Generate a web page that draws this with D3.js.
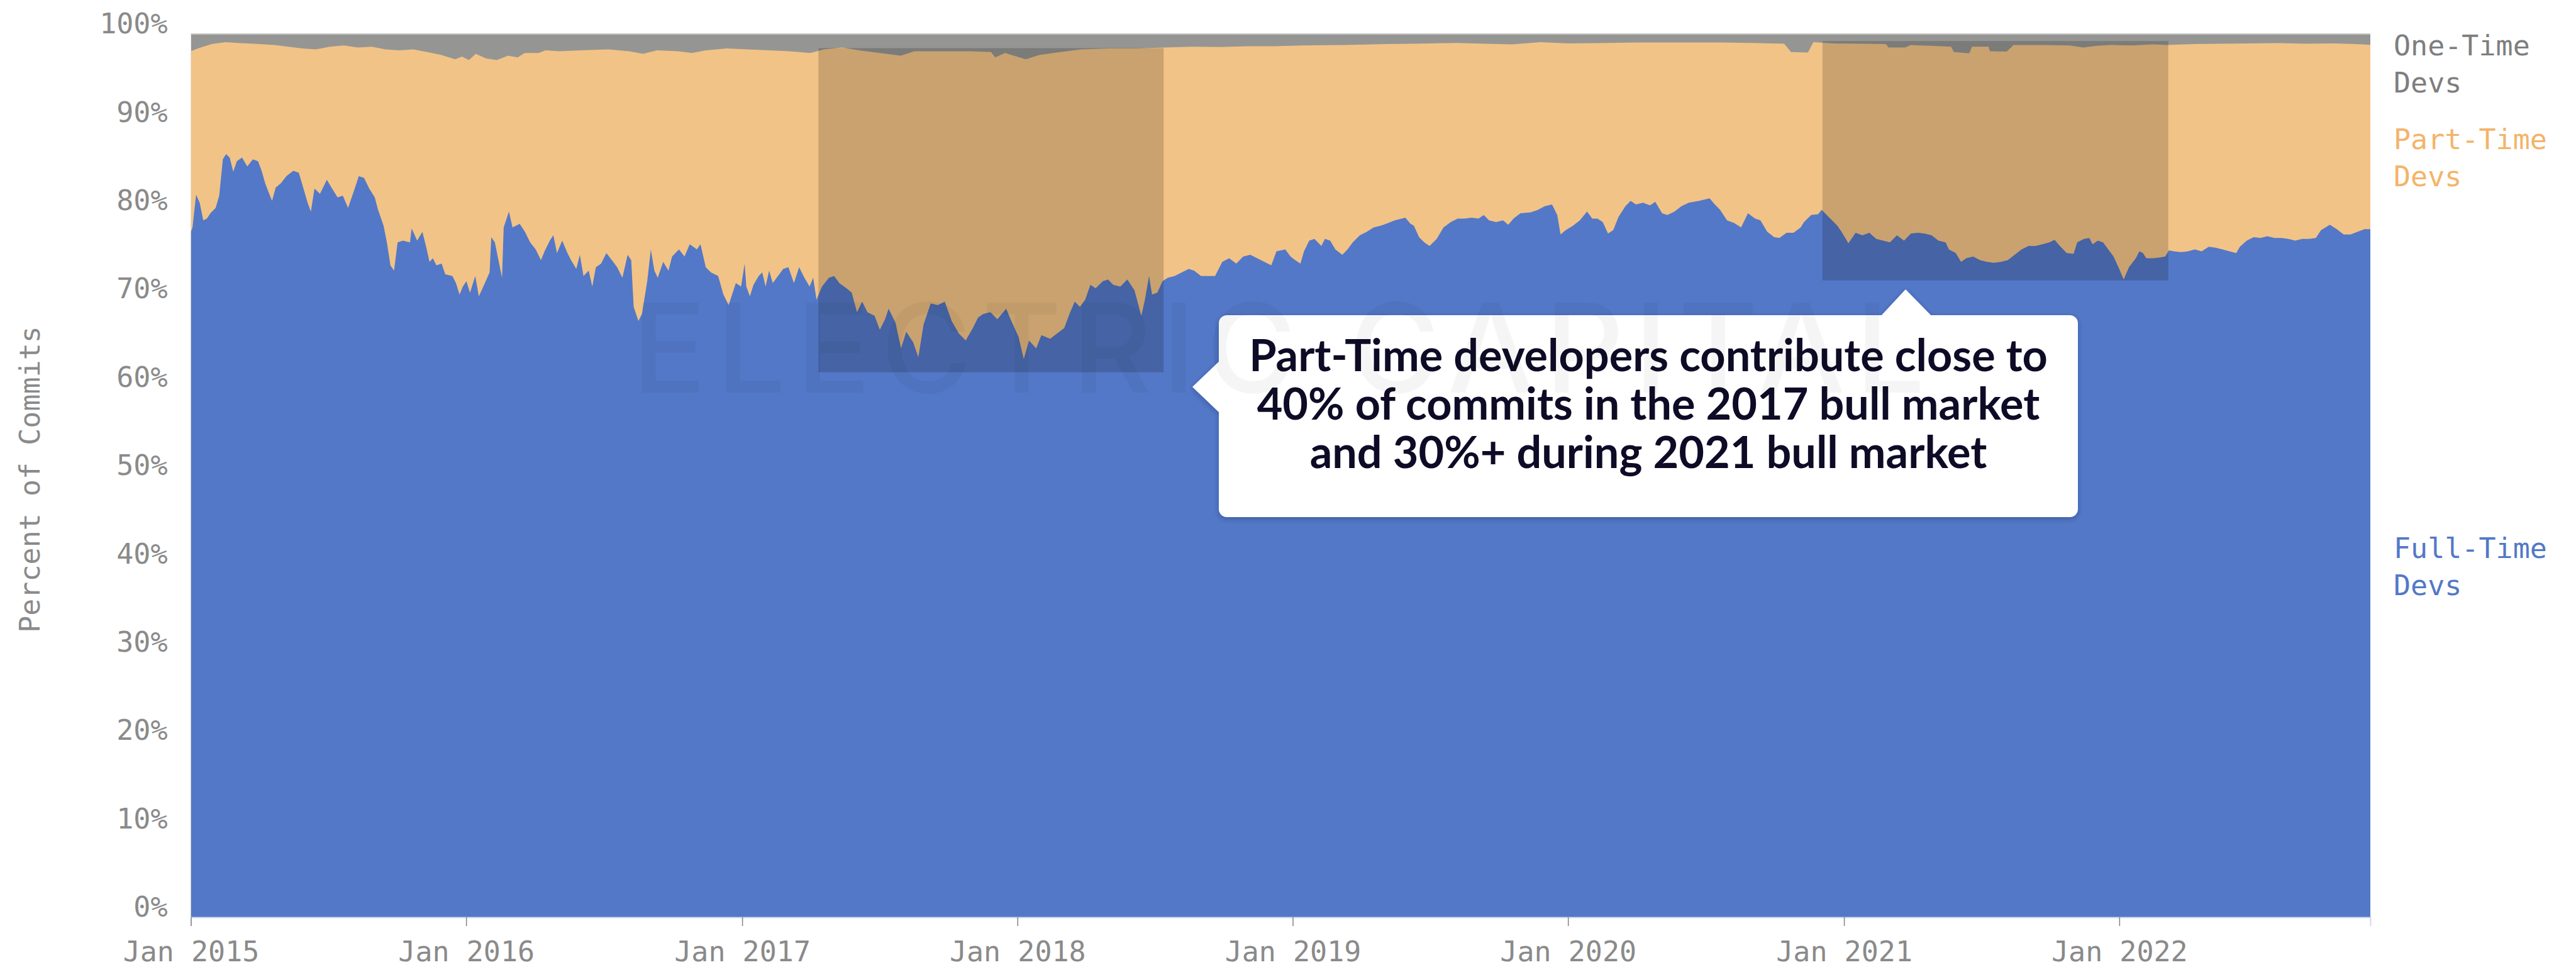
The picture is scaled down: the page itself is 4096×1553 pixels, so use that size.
<!DOCTYPE html>
<html>
<head>
<meta charset="utf-8">
<script src="https://cdn.jsdelivr.net/npm/d3@7"></script>
<style>
  body { margin: 0; background: #fff; }
  svg { display: block; }
</style>
</head>
<body>
<div id="chart"></div>
<script>
// share of commits by developer type (decimal year, percent)
var fullTimeShare = [
  [2015.000,77.6],[2015.006,78.1],[2015.019,81.8],[2015.032,80.9],[2015.045,78.9],[2015.058,79.1],[2015.071,79.7],[2015.090,80.3],
  [2015.103,81.7],[2015.116,85.8],[2015.128,86.4],[2015.141,86.0],[2015.154,84.4],[2015.167,85.6],[2015.186,86.0],[2015.205,85.0],
  [2015.225,85.8],[2015.244,85.6],[2015.257,84.5],[2015.270,83.1],[2015.282,82.1],[2015.295,81.1],[2015.308,82.6],[2015.327,83.1],
  [2015.347,83.9],[2015.372,84.5],[2015.392,84.3],[2015.411,82.3],[2015.424,80.9],[2015.436,79.9],[2015.449,82.5],[2015.469,81.9],
  [2015.494,83.5],[2015.513,82.5],[2015.533,81.5],[2015.552,81.7],[2015.571,80.3],[2015.591,82.1],[2015.610,83.9],[2015.629,83.7],
  [2015.648,82.5],[2015.668,81.5],[2015.680,80.1],[2015.700,78.3],[2015.712,76.4],[2015.725,73.8],[2015.738,73.2],[2015.751,76.4],
  [2015.770,76.6],[2015.796,76.4],[2015.802,78.0],[2015.822,76.6],[2015.841,77.6],[2015.854,76.0],[2015.867,74.2],[2015.879,74.6],
  [2015.892,73.8],[2015.911,74.0],[2015.924,72.8],[2015.950,72.6],[2015.963,71.8],[2015.976,70.5],[2015.988,71.4],[2016.001,72.0],
  [2016.014,70.7],[2016.033,72.6],[2016.046,70.3],[2016.065,71.6],[2016.085,73.0],[2016.091,77.0],[2016.104,76.4],[2016.117,74.4],
  [2016.130,72.4],[2016.136,78.1],[2016.155,79.9],[2016.168,78.1],[2016.194,78.5],[2016.213,77.6],[2016.232,76.4],[2016.252,75.6],
  [2016.271,74.4],[2016.284,75.4],[2016.303,76.6],[2016.316,77.2],[2016.329,75.2],[2016.348,76.6],[2016.367,75.2],[2016.380,74.4],
  [2016.399,73.4],[2016.412,75.0],[2016.425,72.6],[2016.444,73.2],[2016.457,71.4],[2016.470,73.6],[2016.489,74.0],[2016.508,75.2],
  [2016.528,74.4],[2016.547,73.6],[2016.566,72.4],[2016.585,75.0],[2016.598,74.4],[2016.607,69.1],[2016.624,67.5],[2016.637,68.3],
  [2016.656,72.0],[2016.669,75.6],[2016.682,73.2],[2016.694,72.4],[2016.714,74.2],[2016.733,73.2],[2016.746,74.8],[2016.771,75.6],
  [2016.791,74.8],[2016.810,76.2],[2016.836,75.6],[2016.849,76.2],[2016.868,73.6],[2016.887,73.0],[2016.913,72.6],[2016.932,70.5],
  [2016.951,69.3],[2016.977,71.8],[2016.996,71.4],[2017.009,74.0],
  [2017.015,71.4],[2017.028,70.3],[2017.041,71.6],[2017.060,72.6],[2017.073,73.0],[2017.085,71.4],[2017.098,73.2],[2017.111,71.8],
  [2017.130,72.6],[2017.149,73.4],[2017.168,73.6],[2017.188,71.8],[2017.207,73.6],[2017.226,72.4],[2017.245,71.4],[2017.258,72.4],
  [2017.270,69.9],[2017.290,71.4],[2017.315,72.4],[2017.334,72.6],[2017.353,71.8],[2017.379,71.2],[2017.398,70.7],[2017.417,68.5],
  [2017.436,69.7],[2017.455,68.5],[2017.481,68.1],[2017.500,66.5],[2017.519,67.7],[2017.532,68.9],[2017.557,67.3],[2017.577,64.4],
  [2017.596,66.3],[2017.621,65.1],[2017.640,63.4],[2017.659,67.1],[2017.685,69.5],[2017.710,69.3],[2017.736,69.7],[2017.761,67.5],
  [2017.787,66.1],[2017.812,65.3],[2017.838,66.7],[2017.857,67.9],[2017.876,68.3],[2017.902,68.5],[2017.927,67.7],[2017.959,68.9],
  [2017.978,67.5],[2018.004,65.7],[2018.023,63.2],[2018.042,65.3],[2018.068,64.4],[2018.087,65.9],[2018.119,65.5],[2018.144,66.1],
  [2018.170,66.7],[2018.189,68.3],[2018.208,69.7],[2018.227,69.1],[2018.246,69.9],[2018.265,71.6],[2018.284,71.2],[2018.310,72.0],
  [2018.329,72.2],[2018.348,71.6],[2018.374,71.4],[2018.399,72.2],[2018.425,71.0],[2018.450,68.1],[2018.463,69.9],[2018.478,72.6],
  [2018.489,70.5],[2018.508,70.7],[2018.527,72.0],[2018.546,72.4],[2018.571,72.6],[2018.597,73.0],[2018.622,73.4],[2018.642,73.2],
  [2018.667,72.6],[2018.693,72.6],[2018.718,72.6],[2018.744,74.2],[2018.769,74.6],[2018.795,74.0],[2018.820,74.8],[2018.846,75.0],
  [2018.871,74.6],[2018.897,74.2],[2018.922,73.8],[2018.941,75.4],[2018.973,75.6],[2018.992,74.8],
  [2019.009,74.4],[2019.028,74.0],[2019.041,75.4],[2019.060,76.6],[2019.079,76.8],[2019.104,76.0],[2019.117,76.8],[2019.136,76.6],
  [2019.155,75.6],[2019.180,75.0],[2019.199,75.6],[2019.218,76.4],[2019.244,77.2],[2019.269,77.6],[2019.294,78.1],[2019.320,78.3],
  [2019.339,78.5],[2019.371,78.9],[2019.409,79.2],[2019.428,78.5],[2019.440,78.3],[2019.459,77.0],[2019.478,76.4],[2019.497,76.0],
  [2019.523,76.8],[2019.548,78.1],[2019.574,78.7],[2019.599,79.1],[2019.624,79.1],[2019.650,79.2],[2019.675,79.1],[2019.694,79.5],
  [2019.713,78.9],[2019.739,78.7],[2019.764,78.9],[2019.783,78.4],[2019.802,79.1],[2019.827,79.7],[2019.865,79.8],[2019.891,80.1],
  [2019.916,80.5],[2019.942,80.7],[2019.961,79.5],[2019.973,77.3],[2019.992,77.8],[2020.018,78.3],[2020.043,78.9],[2020.069,79.9],
  [2020.088,79.1],[2020.107,79.1],[2020.126,78.7],[2020.145,77.4],[2020.164,77.8],[2020.183,79.3],[2020.208,80.5],[2020.227,81.1],
  [2020.246,80.7],[2020.272,80.9],[2020.297,80.6],[2020.316,81.0],[2020.341,79.7],[2020.360,79.5],[2020.386,79.9],[2020.411,80.5],
  [2020.437,80.9],[2020.475,81.1],[2020.513,81.4],[2020.532,80.7],[2020.551,80.1],[2020.576,78.9],[2020.602,78.6],[2020.627,78.1],
  [2020.652,79.7],[2020.678,79.1],[2020.697,78.9],[2020.722,77.6],[2020.747,77.0],[2020.766,76.9],[2020.792,77.5],[2020.817,77.5],
  [2020.843,78.1],[2020.855,78.7],[2020.881,79.5],[2020.906,79.6],[2020.919,80.1],[2020.944,79.3],[2020.976,78.3],
  [2020.991,77.6],[2021.016,76.3],[2021.042,77.5],[2021.067,77.2],[2021.092,77.5],[2021.117,76.8],[2021.142,76.6],[2021.167,76.4],
  [2021.192,77.2],[2021.218,76.6],[2021.243,77.4],[2021.268,77.5],[2021.293,77.4],[2021.318,77.2],[2021.343,76.6],[2021.369,76.4],
  [2021.381,75.6],[2021.406,75.2],[2021.425,74.2],[2021.444,74.6],[2021.469,74.8],[2021.494,74.4],[2021.519,74.2],[2021.545,74.1],
  [2021.570,74.2],[2021.595,74.4],[2021.620,75.0],[2021.645,75.6],[2021.670,76.0],[2021.696,76.0],[2021.721,76.2],[2021.746,76.4],
  [2021.765,76.7],[2021.784,76.0],[2021.809,75.2],[2021.834,75.1],[2021.847,76.4],[2021.872,76.8],[2021.891,76.9],[2021.903,76.2],
  [2021.922,76.6],[2021.941,76.4],[2021.960,75.6],[2021.979,74.8],[2021.997,73.6],[2022.016,72.2],[2022.035,73.6],[2022.060,74.6],
  [2022.073,75.4],[2022.086,75.2],[2022.098,74.6],[2022.123,74.6],[2022.148,74.7],[2022.167,74.8],[2022.180,75.5],[2022.199,75.4],
  [2022.224,75.3],[2022.249,75.4],[2022.274,75.6],[2022.299,75.4],[2022.325,75.9],[2022.350,75.8],[2022.375,75.6],[2022.400,75.4],
  [2022.425,75.2],[2022.438,75.9],[2022.463,76.6],[2022.488,77.0],[2022.513,76.9],[2022.538,77.1],[2022.564,76.9],[2022.589,76.9],
  [2022.614,76.8],[2022.639,76.6],[2022.664,76.8],[2022.689,76.8],[2022.714,76.9],[2022.733,77.8],[2022.765,78.4],[2022.790,77.9],
  [2022.815,77.3],[2022.840,77.3],[2022.865,77.6],[2022.891,77.9],[2022.912,77.9]
];

var oneTimeShare = [
  [2015.000,1.95],[2015.025,1.64],[2015.076,1.14],[2015.126,0.93],[2015.177,1.04],[2015.227,1.10],[2015.303,1.24],[2015.354,1.44],
  [2015.404,1.64],[2015.455,1.75],[2015.505,1.44],[2015.556,1.30],[2015.606,1.54],[2015.657,1.44],[2015.707,1.75],[2015.758,1.85],
  [2015.808,1.75],[2015.859,2.05],[2015.909,2.36],[2015.960,2.86],[2015.985,2.56],[2016.010,2.96],[2016.035,2.25],[2016.071,2.76],
  [2016.111,2.96],[2016.152,2.46],[2016.187,2.66],[2016.212,2.15],[2016.263,2.15],[2016.288,1.85],[2016.338,1.95],[2016.414,1.85],
  [2016.515,1.75],[2016.591,1.95],[2016.641,2.25],[2016.692,1.85],[2016.768,1.95],[2016.818,2.15],[2016.869,1.85],[2016.944,1.64],
  [2017.020,1.75],[2017.096,1.85],[2017.172,1.95],[2017.247,2.15],[2017.298,1.75],[2017.364,1.54],[2017.424,1.85],[2017.500,2.15],
  [2017.576,2.46],[2017.626,1.95],[2017.727,1.95],[2017.828,1.95],[2017.904,2.05],[2017.919,2.66],[2017.955,2.15],[2018.030,2.86],
  [2018.081,2.36],[2018.131,2.15],[2018.232,1.75],[2018.333,1.64],[2018.434,1.64],[2018.535,1.54],[2018.636,1.44],[2018.737,1.48],
  [2018.838,1.38],[2018.939,1.38],[2019.040,1.30],[2019.192,1.24],[2019.343,1.14],[2019.444,1.10],[2019.596,1.02],[2019.697,1.10],
  [2019.798,1.18],[2019.899,0.93],[2020.000,1.06],[2020.101,1.04],[2020.253,0.97],[2020.354,0.97],[2020.455,0.97],[2020.556,0.97],
  [2020.657,1.02],[2020.783,1.10],[2020.808,2.05],[2020.869,2.11],[2020.889,0.93],[2020.960,1.06],[2021.061,1.10],[2021.152,1.14],
  [2021.162,1.54],[2021.222,1.54],[2021.242,1.26],[2021.313,1.34],[2021.389,1.44],[2021.399,2.05],[2021.455,2.19],[2021.465,1.44],
  [2021.525,1.44],[2021.530,1.95],[2021.591,1.99],[2021.616,1.24],[2021.717,1.24],[2021.818,1.30],[2021.869,1.54],[2021.919,1.34],
  [2021.970,1.24],[2022.045,1.30],[2022.121,1.18],[2022.172,1.24],[2022.273,1.14],[2022.374,1.10],[2022.475,1.06],[2022.576,1.04],
  [2022.677,1.10],[2022.778,1.06],[2022.854,1.14],[2022.919,1.24]
];

var seriesNames = [["One-Time", "Devs"], ["Part-Time", "Devs"], ["Full-Time", "Devs"]];
var seriesLabelAt = [98.2, 87.6, 41.3];   // legend sits beside these percent levels
var yTicks = [0, 10, 20, 30, 40, 50, 60, 70, 80, 90, 100];
var dateRange = [2015.0, 2022.912];
// shaded bull-market windows: [from, to, top %, bottom %]
var bullMarkets = [[2017.277, 2018.531, 98.4, 61.7], [2020.922, 2022.178, 99.2, 72.1]];
var calloutLines = [
  "Part-Time developers contribute close to",
  "40% of commits in the 2017 bull market",
  "and 30%+ during 2021 bull market"
];

var colors = { full: "#5378c7", part: "#f2c386", one: "#959693" };
var labelColors = ["#7e7e7e", "#f3b46a", "#5378c7"];

function toDate(y) {
  var yr = Math.floor(y);
  var a = new Date(yr, 0, 1), b = new Date(yr + 1, 0, 1);
  return new Date(+a + (y - yr) * (b - a));
}

var W = 4096, H = 1553;
var margin = { top: 54, right: 327, bottom: 95, left: 303.5 },
    width = W - margin.left - margin.right,
    height = H - margin.top - margin.bottom;

var svg = d3.select("#chart").append("svg")
    .attr("width", W)
    .attr("height", H);

var defs = svg.append("defs");
defs.append("clipPath").attr("id", "plot-clip")
  .append("rect").attr("width", width).attr("height", height);
var shadow = defs.append("filter").attr("id", "shadow")
    .attr("x", "-10%").attr("y", "-20%").attr("width", "120%").attr("height", "140%");
shadow.append("feDropShadow")
    .attr("dx", 0).attr("dy", 3).attr("stdDeviation", 4)
    .attr("flood-color", "#1c2a55").attr("flood-opacity", 0.35);

var g = svg.append("g")
    .attr("transform", "translate(" + margin.left + "," + margin.top + ")");

var x = d3.scaleTime()
    .domain(dateRange.map(toDate))
    .range([0, width]);

var y = d3.scaleLinear()
    .domain([0, 100])
    .range([height, 0]);

var plot = g.append("g").attr("clip-path", "url(#plot-clip)");

// one-time devs fill the top; part-time and full-time are layered over it
plot.append("rect")
    .attr("x", x(toDate(dateRange[0])))
    .attr("y", y(100))
    .attr("width", x(toDate(dateRange[1])) - x(toDate(dateRange[0])))
    .attr("height", y(0) - y(100))
    .attr("fill", colors.one);

var partArea = d3.area()
    .x(function (d) { return x(toDate(d[0])); })
    .y0(y(0))
    .y1(function (d) { return y(100 - d[1]); });

plot.append("path")
    .datum(oneTimeShare)
    .attr("d", partArea)
    .attr("fill", colors.part);

var fullArea = d3.area()
    .x(function (d) { return x(toDate(d[0])); })
    .y0(y(0))
    .y1(function (d) { return y(d[1]); });

plot.append("path")
    .datum(fullTimeShare)
    .attr("d", fullArea)
    .attr("fill", colors.full);

plot.selectAll(".bull")
    .data(bullMarkets)
    .enter().append("rect")
    .attr("class", "bull")
    .attr("x", function (d) { return x(toDate(d[0])); })
    .attr("width", function (d) { return x(toDate(d[1])) - x(toDate(d[0])); })
    .attr("y", function (d) { return y(d[2]); })
    .attr("height", function (d) { return y(d[3]) - y(d[2]); })
    .attr("fill", "#000")
    .attr("opacity", 0.17);

// top rule
g.append("line")
    .attr("x1", 0).attr("x2", width)
    .attr("y1", y(100)).attr("y2", y(100))
    .attr("stroke", "#c8c8c8").attr("stroke-width", 2);

var mono = "'DejaVu Sans Mono', 'Liberation Mono', monospace";

var xAxis = d3.axisBottom(x)
    .ticks(d3.timeYear.every(1))
    .tickFormat(d3.timeFormat("%b %Y"))
    .tickSizeOuter(0)
    .tickSize(14)
    .tickPadding(24);

var xg = g.append("g")
    .attr("transform", "translate(0," + height + ")")
    .call(xAxis);
xg.select(".domain").attr("stroke", "#d3d8e6").attr("stroke-width", 2);
xg.selectAll(".tick line").attr("stroke", "#8a8a8a").attr("stroke-width", 1.6);
xg.selectAll(".tick text")
    .attr("fill", "#8a8a8a")
    .style("font-family", mono)
    .style("font-size", "45px")
    .attr("dy", "0.71em");

var yg = g.append("g")
    .call(d3.axisLeft(y).tickValues(yTicks).tickFormat(function (d) { return d + "%"; })
      .tickSize(0).tickPadding(37));
yg.select(".domain").remove();
yg.selectAll(".tick text")
    .attr("fill", "#8a8a8a")
    .style("font-family", mono)
    .style("font-size", "45px")
    .attr("dy", "-0.03em");

g.append("text")
    .attr("transform", "rotate(-90)")
    .attr("x", -(y(0) + y(100)) / 2 - 6)
    .attr("y", -margin.left + 47)
    .attr("text-anchor", "middle")
    .attr("dominant-baseline", "central")
    .attr("fill", "#8a8a8a")
    .style("font-family", mono)
    .style("font-size", "45px")
    .text("Percent of Commits");

// legend at the right end of the areas
var legend = g.selectAll(".legend")
    .data(seriesNames)
    .enter().append("text")
    .attr("class", "legend")
    .attr("x", width + 37)
    .attr("y", function (d, i) { return y(seriesLabelAt[i]); })
    .attr("fill", function (d, i) { return labelColors[i]; })
    .style("font-family", mono)
    .style("font-size", "45px");
legend.selectAll("tspan")
    .data(function (d) { return d; })
    .enter().append("tspan")
    .attr("x", width + 37)
    .attr("dy", function (d, i) { return i === 0 ? "0.2em" : "1.31em"; })
    .text(function (d) { return d; });

// callout
var box = { x: 1938, y: 501, w: 1366, h: 321, r: 13 };
var call = svg.append("g").attr("filter", "url(#shadow)");
call.append("rect")
    .attr("x", box.x).attr("y", box.y)
    .attr("width", box.w).attr("height", box.h)
    .attr("rx", box.r)
    .attr("fill", "#fff");
call.append("path")
    .attr("d", "M" + (box.x + 2) + "," + 573 + "L1896,615L" + (box.x + 2) + ",657Z")
    .attr("fill", "#fff");
call.append("path")
    .attr("d", "M2990," + (box.y + 2) + "L3030,460L3072," + (box.y + 2) + "Z")
    .attr("fill", "#fff");

var ct = svg.append("g").selectAll("text")
    .data(calloutLines)
    .enter().append("text")
    .attr("x", box.x + box.w / 2)
    .attr("y", function (d, i) { return 590 + i * 77; })
    .attr("text-anchor", "middle")
    .attr("fill", "#0e0b26")
    .style("font-family", "Lato, 'Open Sans', sans-serif")
    .style("font-weight", 700)
    .style("font-size", "62px")
    .text(function (d) { return d; });
var w0 = ct.node().getComputedTextLength();
if (w0 > 0) ct.style("font-size", (62 * 1270 / w0).toFixed(1) + "px");

// faint watermark across the middle
svg.append("text")
    .attr("x", 1005)
    .attr("y", 624)
    .attr("textLength", 2056)
    .attr("lengthAdjust", "spacing")
    .attr("fill", "#000")
    .attr("opacity", 0.035)
    .style("font-family", "Inter, 'Open Sans', sans-serif")
    .style("font-weight", 500)
    .style("font-size", "196px")
    .text("ELECTRIC CAPITAL");
</script>
</body>
</html>
